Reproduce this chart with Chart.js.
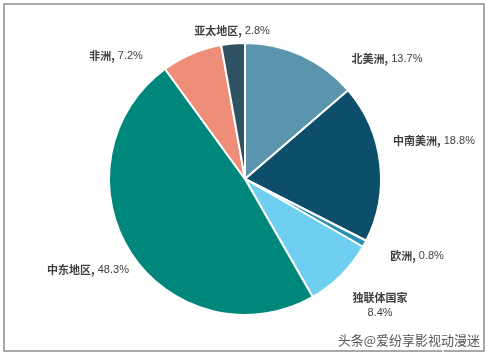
<!DOCTYPE html>
<html>
<head>
<meta charset="utf-8">
<script src="https://cdn.jsdelivr.net/npm/chart.js@4"></script>
<style>
  html, body { margin: 0; padding: 0; background: #fff; }
  canvas { display: block; }
</style>
</head>
<body>
<canvas id="Chart" width="491" height="357"></canvas>
<script>
const regions = ["北美洲", "中南美洲", "欧洲", "独联体国家", "中东地区", "非洲", "亚太地区"];
const shares = [13.7, 18.8, 0.8, 8.4, 48.3, 7.2, 2.8];
const sliceColors = ["#5b95ad", "#0d4e6b", "#2a8fb6", "#6fcff0", "#00877c", "#ee8e78", "#2f5262"];
// label anchors (text centers) and whether the label wraps to two lines
const labelAnchors = [[387, 59], [434, 141], [417, 256], [380, 298], [88, 270], [116, 56], [232, 31]];
const labelWrap = [false, false, false, true, false, false, false];

const labelPlugin = {
  id: "pieLabels",
  afterDraw(chart) {
    const ctx = chart.ctx;
    ctx.save();
    // frame
    ctx.strokeStyle = "#8c8c8c";
    ctx.lineWidth = 1.5;
    ctx.strokeRect(4, 4, 480, 347);

    ctx.textBaseline = "middle";
    ctx.fillStyle = "#404040";
    const bold = "bold 11px 'Noto Sans CJK SC', sans-serif";
    const norm = "11px 'Liberation Sans', 'Noto Sans', sans-serif";
    regions.forEach((name, i) => {
      const [x, y] = labelAnchors[i];
      const val = shares[i].toFixed(1) + "%";
      if (labelWrap[i]) {
        ctx.font = bold;
        ctx.textAlign = "center";
        ctx.fillText(name, x, y);
        ctx.font = norm;
        ctx.fillText(val, x, y + 15);
        return;
      }
      ctx.textAlign = "left";
      ctx.font = bold;
      const a = name + ",";
      const wa = ctx.measureText(a).width;
      ctx.font = norm;
      const b = " " + val;
      const wb = ctx.measureText(b).width;
      const x0 = x - (wa + wb) / 2;
      ctx.font = bold;
      ctx.fillText(a, x0, y);
      ctx.font = norm;
      ctx.fillText(b, x0 + wa, y);
    });

    // watermark
    ctx.font = "13px 'Noto Sans CJK SC', sans-serif";
    ctx.textAlign = "right";
    ctx.lineWidth = 3;
    ctx.strokeStyle = "rgba(255,255,255,0.9)";
    ctx.strokeText("头条@爱纷享影视动漫迷", 480, 340);
    ctx.fillStyle = "#555";
    ctx.fillText("头条@爱纷享影视动漫迷", 480, 340);
    ctx.restore();
  }
};

new Chart("Chart", {
  type: "pie",
  data: {
    labels: regions,
    datasets: [
      {
        data: shares,
        backgroundColor: sliceColors,
        borderColor: "#ffffff",
        borderWidth: 2,
      },
    ],
  },
  options: {
    responsive: false,
    animation: false,
    layout: { padding: { top: 42, bottom: 41, left: 108, right: 109 } },
    plugins: {
      legend: { display: false },
      tooltip: { enabled: false },
    },
  },
  plugins: [labelPlugin],
});
</script>
</body>
</html>
